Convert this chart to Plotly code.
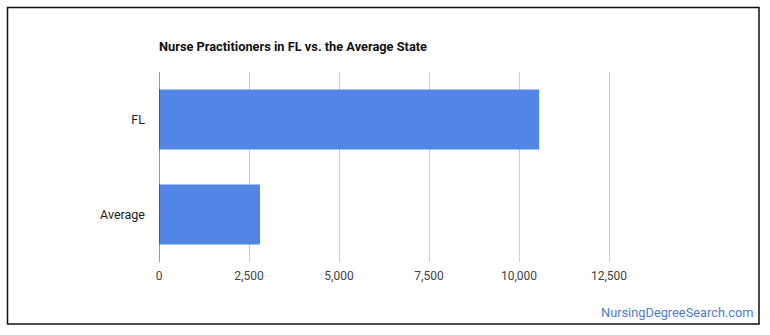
import plotly.graph_objects as go

categories = ["FL", "Average"]
values = [10560, 2805]
tick_vals = [0, 2500, 5000, 7500, 10000, 12500]
tick_text = ["0", "2,500", "5,000", "7,500", "10,000", "12,500"]
title_text = "Nurse Practitioners in FL vs. the Average State"
source_text = "NursingDegreeSearch.com"

W, H = 770, 335
L, T, R, B = 159, 72, 116, 73
PW, PH = W - L - R, H - T - B


def px_x(px):
    return (px - L) / PW


def px_y(py):
    return (H - B - py) / PH


fig = go.Figure(
    go.Bar(
        y=categories,
        x=values,
        orientation="h",
        marker=dict(color="#5285e6", line=dict(width=0)),
        hoverinfo="x+y",
    )
)

fig.update_layout(
    width=W,
    height=H,
    margin=dict(l=L, r=R, t=T, b=B, pad=0),
    paper_bgcolor="white",
    plot_bgcolor="white",
    bargap=0.37,
    showlegend=False,
    font=dict(family="Roboto, Arial, sans-serif", size=12, color="#444444"),
    xaxis=dict(
        range=[0, 13750],
        tickvals=tick_vals,
        ticktext=tick_text,
        showgrid=True,
        gridcolor="#cccccc",
        gridwidth=1,
        zeroline=False,
        showline=False,
        ticks="",
        ticklabelstandoff=5,
        tickfont=dict(size=12, color="#444444"),
        fixedrange=True,
    ),
    yaxis=dict(
        categoryorder="array",
        categoryarray=categories[::-1],
        showgrid=False,
        zeroline=False,
        showline=False,
        ticks="",
        ticklabelstandoff=13,
        tickfont=dict(size=12.5, color="#222222"),
        fixedrange=True,
    ),
    shapes=[
        dict(
            type="line", xref="x", yref="paper",
            x0=0, x1=0, y0=0, y1=1,
            line=dict(color="#333333", width=1),
        ),
        dict(
            type="rect", xref="paper", yref="paper",
            x0=px_x(7.5), x1=px_x(759), y0=px_y(324), y1=px_y(7.5),
            line=dict(color="#111111", width=1.5),
            fillcolor="rgba(0,0,0,0)",
            layer="above",
        ),
    ],
    annotations=[
        dict(
            text=f"<b>{title_text}</b>",
            xref="paper", yref="paper",
            x=px_x(157), y=px_y(46),
            xanchor="left", yanchor="middle",
            showarrow=False,
            font=dict(size=12.8, color="#111111"),
        ),
        dict(
            text=source_text,
            xref="paper", yref="paper",
            x=px_x(756), y=px_y(312),
            xanchor="right", yanchor="middle",
            showarrow=False,
            font=dict(size=12.8, color="#4f7bd8"),
        ),
    ],
)

fig.write_html("out.html", config={"displayModeBar": False})
